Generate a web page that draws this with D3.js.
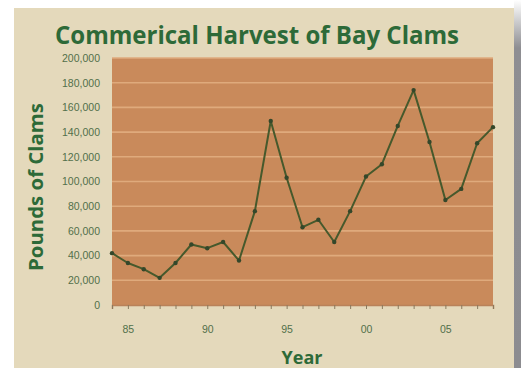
<!DOCTYPE html>
<html>
<head>
<meta charset="utf-8">
<script src="https://cdn.jsdelivr.net/npm/d3@7"></script>
<style>
  html, body { margin: 0; padding: 0; background: #ffffff; }
  svg { display: block; }
</style>
</head>
<body>
<svg id="chart" width="521" height="368"></svg>
<script>
// Commercial bay clam harvest, pounds per year
const years = d3.range(1984, 2009);
const pounds = [42000, 34000, 29000, 22000, 34000, 49000, 46000, 51000, 36000, 76000,
                149000, 103000, 63000, 69000, 51000, 76000, 104000, 114000, 145000, 174000,
                132000, 85000, 94000, 131000, 144000];
const yTicks = [0, 20000, 40000, 60000, 80000, 100000, 120000, 140000, 160000, 180000, 200000];
const xLabelYears = [1985, 1990, 1995, 2000, 2005];

const svg = d3.select("#chart");
const W = 521, H = 368;
const plot = { left: 112, right: 493, top: 58, bottom: 305 };

// Drop shadow strip on the right, lighter toward the top
const defs = svg.append("defs");
const grad = defs.append("linearGradient")
  .attr("id", "shade").attr("x1", 0).attr("y1", 0).attr("x2", 0).attr("y2", 1);
grad.append("stop").attr("offset", "0").attr("stop-color", "#ffffff");
grad.append("stop").attr("offset", "0.13").attr("stop-color", "#8e8e92");
grad.append("stop").attr("offset", "1").attr("stop-color", "#8c8c90");

svg.append("rect").attr("x", 514).attr("y", 0).attr("width", 7).attr("height", H)
  .attr("fill", "url(#shade)");

// Beige panel
svg.append("rect").attr("x", 14).attr("y", 8).attr("width", 500).attr("height", H - 8)
  .attr("fill", "#e4d9bb");

// Plot background
svg.append("rect")
  .attr("x", plot.left).attr("y", plot.top)
  .attr("width", plot.right - plot.left).attr("height", plot.bottom - plot.top)
  .attr("fill", "#c98a5b");

const x = d3.scaleLinear().domain([1984, 2008]).range([plot.left, plot.right]);
const y = d3.scaleLinear().domain([0, 200000]).range([plot.bottom, plot.top]);

// Horizontal gridlines
svg.append("g")
  .selectAll("line")
  .data(yTicks.filter(d => d > 0))
  .join("line")
  .attr("x1", plot.left).attr("x2", plot.right)
  .attr("y1", d => y(d)).attr("y2", d => y(d))
  .attr("stroke", "#dfaa7c").attr("stroke-width", 1.6);

// Y axis labels
const yAxis = d3.axisLeft(y).tickValues(yTicks).tickFormat(d3.format(",")).tickSize(0).tickPadding(12);
const gy = svg.append("g").attr("transform", `translate(${plot.left},0)`).call(yAxis);
gy.select(".domain").remove();
gy.selectAll("text")
  .attr("fill", "#52704a")
  .style("font-family", "'Liberation Sans', Arial, sans-serif")
  .style("font-size", "10.5px");

// X axis: ticks at every year, labels every five years
const xAxis = d3.axisBottom(x).tickValues(years).tickSize(4).tickPadding(17)
  .tickFormat(d => xLabelYears.includes(d) ? String(d % 100).padStart(2, "0") : "");
const gx = svg.append("g").attr("transform", `translate(0,${plot.bottom})`).call(xAxis);
gx.select(".domain").attr("stroke", "#b9825a").attr("stroke-width", 1.5);
gx.selectAll(".tick line").attr("stroke", "#8a7a5e");
gx.selectAll("text")
  .attr("fill", "#52704a")
  .style("font-family", "'Liberation Sans', Arial, sans-serif")
  .style("font-size", "10.5px");

// Harvest line with point markers
const line = d3.line().x((d, i) => x(years[i])).y(d => y(d));
svg.append("path")
  .datum(pounds)
  .attr("d", line)
  .attr("fill", "none")
  .attr("stroke", "#46592c")
  .attr("stroke-width", 2)
  .attr("stroke-linejoin", "round");

svg.append("g")
  .selectAll("circle")
  .data(pounds)
  .join("circle")
  .attr("cx", (d, i) => x(years[i]))
  .attr("cy", d => y(d))
  .attr("r", 2.2)
  .attr("fill", "#34472a");

// Titles
svg.append("text")
  .attr("x", 257).attr("y", 44)
  .attr("text-anchor", "middle")
  .attr("textLength", 404).attr("lengthAdjust", "spacingAndGlyphs")
  .attr("fill", "#2d6a38")
  .style("font-family", "'Open Sans', sans-serif")
  .style("font-weight", "bold")
  .style("font-size", "25px")
  .text("Commerical Harvest of Bay Clams");

svg.append("text")
  .attr("transform", "translate(43,187) rotate(-90)")
  .attr("text-anchor", "middle")
  .attr("textLength", 168).attr("lengthAdjust", "spacingAndGlyphs")
  .attr("fill", "#2d6a38")
  .style("font-family", "'Open Sans', sans-serif")
  .style("font-weight", "bold")
  .style("font-size", "19px")
  .text("Pounds of Clams");

svg.append("text")
  .attr("x", 302).attr("y", 364)
  .attr("text-anchor", "middle")
  .attr("fill", "#2d6a38")
  .style("font-family", "'Open Sans', sans-serif")
  .style("font-weight", "bold")
  .style("font-size", "18px")
  .text("Year");
</script>
</body>
</html>
